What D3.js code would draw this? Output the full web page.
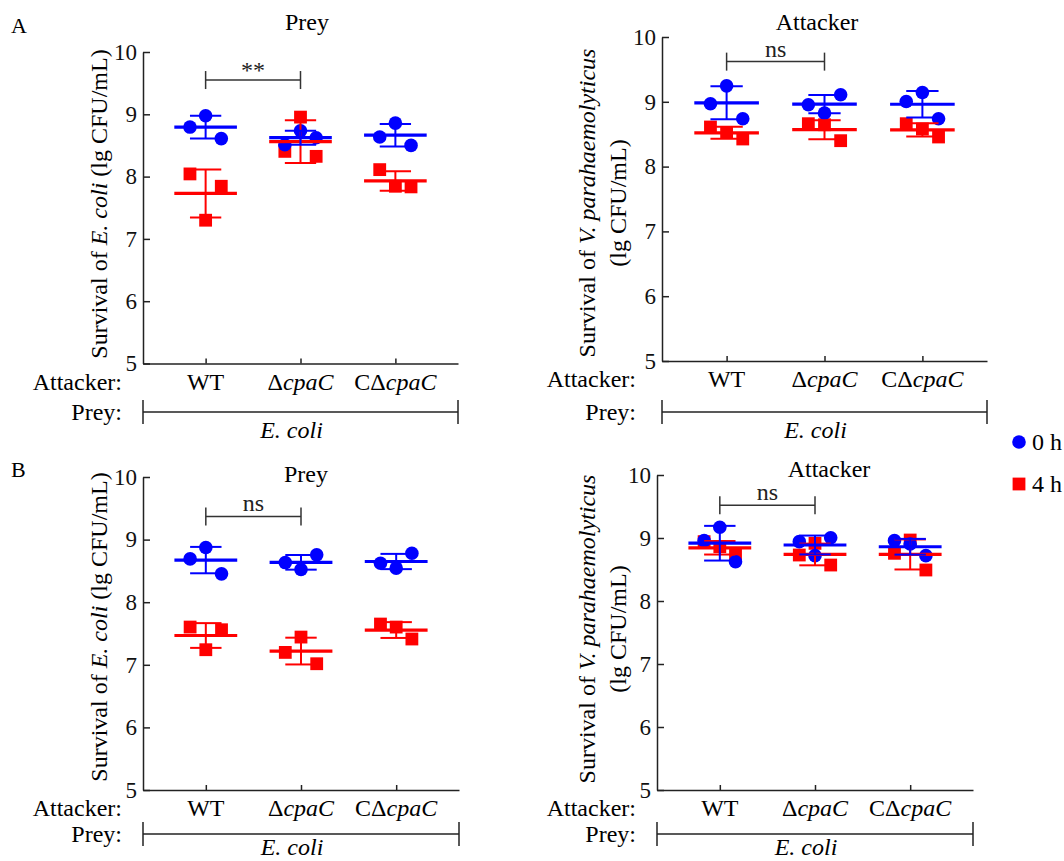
<!DOCTYPE html>
<html>
<head>
<meta charset="utf-8">
<script src="https://cdn.jsdelivr.net/npm/d3@7"></script>
<style>
  html, body { margin: 0; background: #fff; }
  svg { display: block; font-family: "Liberation Serif", "Times New Roman", serif; }
</style>
</head>
<body>
<svg id="chart" width="1064" height="861"></svg>
<script>
const categories = ["WT", "ΔcpaC", "CΔcpaC"];
const timePoints = ["0 h", "4 h"];
const yTicks = [5, 6, 7, 8, 9, 10];

// replicate values per strain, lg CFU/mL (listed left to right as plotted)
const preyA0h = [[8.795, 8.976, 8.61], [8.512, 8.736, 8.624], [8.635, 8.859, 8.501]];
const preyA4h = [[8.043, 7.30, 7.845], [8.405, 8.955, 8.325], [8.112, 7.845, 7.835]];
const attackerA0h = [[8.969, 9.246, 8.738], [8.954, 8.826, 9.108], [9.005, 9.143, 8.738]];
const attackerA4h = [[8.611, 8.528, 8.426], [8.662, 8.646, 8.40], [8.662, 8.58, 8.457]];
const preyB0h = [[8.692, 8.873, 8.453], [8.633, 8.522, 8.756], [8.623, 8.544, 8.783]];
const preyB4h = [[7.603, 7.241, 7.56], [7.198, 7.443, 7.017], [7.651, 7.603, 7.412]];
const attackerB0h = [[8.958, 9.17, 8.624], [8.942, 8.72, 9.005], [8.958, 8.905, 8.72]];
const attackerB4h = [[8.942, 8.862, 8.73], [8.73, 8.915, 8.571], [8.757, 8.968, 8.492]];

// WT vs ΔcpaC comparison, one per panel
const sigLabels = ["**", "ns", "ns", "ns"];
const sigLevels = [9.55, 9.62, 9.37, 9.52];

const BLUE = "#0000ff";
const RED = "#ff0000";
const INK = "#222";
const FONT = 24;

const panels = [
  { letter: "A", letterY: 33, title: "Prey", titleX: 307, titleY: 30,
    series: [preyA0h, preyA4h], sig: 0,
    x0: 143, x1: 458, top: 52, bottom: 363.5, prey: 412, preyName: 438, rowX: 122,
    yLabel: ["Survival of <i>E. coli</i> (lg CFU/mL)"], labelX: 107, labelMid: 204 },
  { title: "Attacker", titleX: 817, titleY: 30,
    series: [attackerA0h, attackerA4h], sig: 1,
    x0: 662, x1: 987, top: 37, bottom: 361, prey: 412, preyName: 438, rowX: 636,
    yLabel: ["Survival of <i>V. parahaemolyticus</i>", "(lg CFU/mL)"], labelX: 595, labelMid: 203 },
  { letter: "B", letterY: 477, title: "Prey", titleX: 306, titleY: 482,
    series: [preyB0h, preyB4h], sig: 2,
    x0: 143, x1: 459, top: 477, bottom: 790, prey: 834, preyName: 855, rowX: 122,
    yLabel: ["Survival of <i>E. coli</i> (lg CFU/mL)"], labelX: 107, labelMid: 627 },
  { title: "Attacker", titleX: 829, titleY: 477,
    series: [attackerB0h, attackerB4h], sig: 3,
    x0: 657, x1: 973, top: 475, bottom: 790, prey: 834, preyName: 855, rowX: 636,
    yLabel: ["Survival of <i>V. parahaemolyticus</i>", "(lg CFU/mL)"], labelX: 595, labelMid: 629 },
];

const svg = d3.select("#chart");

panels.forEach(drawPanel);
drawLegend();

function richText(textSel, str) {
  for (const part of str.split(/(<i>.*?<\/i>)/).filter(Boolean)) {
    const italic = part.startsWith("<i>");
    textSel.append("tspan")
      .attr("font-style", italic ? "italic" : null)
      .text(italic ? part.slice(3, -4) : part);
  }
}

function strainLabel(name) {
  // gene names are italic, Δ and the complement prefix are not
  return name.replace(/(cpaC)/, "<i>$1</i>");
}

function drawPanel(p) {
  const g = svg.append("g");
  const x = d3.scalePoint().domain(categories).range([p.x0, p.x1]).padding(0.66);
  const y = d3.scaleLinear().domain([5, 10]).range([p.bottom, p.top]);
  const step = x.step();
  const jitter = step * 0.165;
  const meanHalf = step * 0.33;
  const capHalf = step * 0.165;

  if (p.letter) {
    g.append("text").attr("x", 11).attr("y", p.letterY)
      .attr("font-size", 22).text(p.letter);
  }

  g.append("text").attr("x", p.titleX).attr("y", p.titleY)
    .attr("text-anchor", "middle").attr("font-size", FONT).text(p.title);

  const yAxis = g.append("g")
    .attr("transform", `translate(${p.x0},0)`)
    .call(d3.axisLeft(y).tickValues(yTicks).tickFormat(d3.format("d"))
      .tickSize(-7).tickSizeOuter(0).tickPadding(6));
  const xAxis = g.append("g")
    .attr("transform", `translate(0,${p.bottom})`)
    .call(d3.axisBottom(x).tickSize(-5).tickSizeOuter(0).tickFormat(""));

  for (const axis of [yAxis, xAxis]) {
    axis.attr("font-family", null).attr("font-size", 23);
    axis.selectAll("path, line").attr("stroke", INK).attr("stroke-width", 1.5);
    axis.selectAll("text").attr("fill", "#111");
  }

  // y axis title
  p.yLabel.forEach((line, i) => {
    const t = g.append("text")
      .attr("transform", `translate(${p.labelX + i * 31},${p.labelMid}) rotate(-90)`)
      .attr("text-anchor", "middle").attr("font-size", FONT);
    richText(t, line);
  });

  // strain row
  g.append("text").attr("x", p.rowX).attr("y", p.bottom + 26)
    .attr("text-anchor", "end").attr("font-size", FONT).text("Attacker:");
  categories.forEach((c) => {
    const t = g.append("text").attr("x", x(c)).attr("y", p.bottom + 26)
      .attr("text-anchor", "middle").attr("font-size", FONT);
    richText(t, strainLabel(c));
  });

  // prey row
  g.append("text").attr("x", p.rowX).attr("y", p.prey + 8)
    .attr("text-anchor", "end").attr("font-size", FONT).text("Prey:");
  const preyLine = g.append("g").attr("stroke", INK).attr("stroke-width", 1.5);
  preyLine.append("line").attr("x1", p.x0).attr("x2", p.x1).attr("y1", p.prey).attr("y2", p.prey);
  for (const end of [p.x0, p.x1]) {
    preyLine.append("line").attr("x1", end).attr("x2", end)
      .attr("y1", p.prey - 12).attr("y2", p.prey + 12);
  }
  g.append("text").attr("x", (p.x0 + p.x1) / 2 - 9).attr("y", p.preyName)
    .attr("text-anchor", "middle").attr("font-size", FONT)
    .attr("font-style", "italic").text("E. coli");

  // significance bracket WT vs ΔcpaC
  const by = y(sigLevels[p.sig]);
  const bx1 = x(categories[0]);
  const bx2 = x(categories[1]);
  const br = g.append("g").attr("stroke", "#333").attr("stroke-width", 1.5);
  br.append("line").attr("x1", bx1).attr("x2", bx2).attr("y1", by).attr("y2", by);
  for (const bx of [bx1, bx2]) {
    br.append("line").attr("x1", bx).attr("x2", bx).attr("y1", by - 9).attr("y2", by + 9);
  }
  g.append("text").attr("x", (bx1 + bx2) / 2).attr("y", by - (sigLabels[p.sig] === "**" ? 2 : 5))
    .attr("text-anchor", "middle").attr("font-size", FONT).attr("fill", "#222")
    .text(sigLabels[p.sig]);

  const [zero, four] = p.series;
  const pts = (values) => values.flatMap((reps, ci) =>
    reps.map((v, j) => ({ cx: x(categories[ci]) + (j - 1) * jitter, cy: y(v) })));

  // 4 h squares, then 0 h circles
  g.append("g").attr("fill", RED).selectAll("rect")
    .data(pts(four)).join("rect")
    .attr("x", (d) => d.cx - 6.4).attr("y", (d) => d.cy - 6.4)
    .attr("width", 12.8).attr("height", 12.8);
  g.append("g").attr("fill", BLUE).selectAll("circle")
    .data(pts(zero)).join("circle")
    .attr("cx", (d) => d.cx).attr("cy", (d) => d.cy).attr("r", 6.8);

  // mean ± SD
  for (const [values, color] of [[four, RED], [zero, BLUE]]) {
    const stats = values.map((reps, ci) => ({
      cx: x(categories[ci]), mean: d3.mean(reps), sd: d3.deviation(reps),
    }));
    const eg = g.append("g").attr("stroke", color);
    eg.selectAll(".mean").data(stats).join("line").attr("class", "mean")
      .attr("stroke-width", 3.2)
      .attr("x1", (d) => d.cx - meanHalf).attr("x2", (d) => d.cx + meanHalf)
      .attr("y1", (d) => y(d.mean)).attr("y2", (d) => y(d.mean));
    eg.selectAll(".whisker").data(stats).join("line").attr("class", "whisker")
      .attr("stroke-width", 2)
      .attr("x1", (d) => d.cx).attr("x2", (d) => d.cx)
      .attr("y1", (d) => y(d.mean + d.sd)).attr("y2", (d) => y(d.mean - d.sd));
    for (const sign of [1, -1]) {
      eg.selectAll(`.cap${sign}`).data(stats).join("line").attr("class", `cap${sign}`)
        .attr("stroke-width", 2)
        .attr("x1", (d) => d.cx - capHalf).attr("x2", (d) => d.cx + capHalf)
        .attr("y1", (d) => y(d.mean + sign * d.sd)).attr("y2", (d) => y(d.mean + sign * d.sd));
    }
  }
}

function drawLegend() {
  const lg = svg.append("g").attr("font-size", FONT);
  lg.append("circle").attr("cx", 1019).attr("cy", 442).attr("r", 6.8).attr("fill", BLUE);
  lg.append("text").attr("x", 1032).attr("y", 450).text(timePoints[0]);
  lg.append("rect").attr("x", 1019 - 6.4).attr("y", 484 - 6.4)
    .attr("width", 12.8).attr("height", 12.8).attr("fill", RED);
  lg.append("text").attr("x", 1032).attr("y", 492).text(timePoints[1]);
}
</script>
</body>
</html>
